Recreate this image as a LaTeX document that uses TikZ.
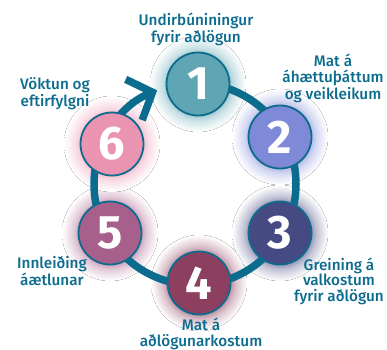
\documentclass[tikz,border=0pt]{standalone}
\usepackage{fontspec}
\setmainfont{Fira Sans}
\newfontfamily\medfont{Fira Sans Medium}
\usetikzlibrary{arrows.meta}
\definecolor{ringc}{RGB}{12,108,142}
\definecolor{cA}{HTML}{5FA5B3}
\definecolor{cB}{HTML}{7E89D8}
\definecolor{cC}{HTML}{464A82}
\definecolor{cD}{HTML}{8C3F5E}
\definecolor{cE}{HTML}{A75F8B}
\definecolor{cF}{HTML}{EA94B2}
\colorlet{glowc}{cA}
\pgfdeclareradialshading[glowc]{glow}{\pgfpointorigin}{color(0bp)=(glowc); color(16bp)=(glowc); color(19bp)=(glowc!55!white); color(25bp)=(white); color(50bp)=(white)}
\newcommand\glowat[2]{\colorlet{glowc}{#2!60!white}\fill[shading=glow] (#1) circle[radius=48pt];}
\tikzset{
  numc/.style={circle, minimum size=63pt, inner sep=0pt, draw=ringc, line width=1.8pt, text=white, font=\fontsize{47}{47}\selectfont\bfseries},
  lbl/.style={align=center, inner sep=0pt, text=ringc, anchor=base, font=\medfont\fontsize{15.3}{15.5}\selectfont},
  ringline/.style={draw=ringc, line width=7.5pt}
}
\begin{document}
\begin{tikzpicture}[x=1pt,y=1pt]
\useasboundingbox (0,0) rectangle (387,349);
\coordinate (p1) at (198,265);
\coordinate (p2) at (280,212);
\coordinate (p3) at (280,116);
\coordinate (p4) at (199,66);
\coordinate (p5) at (110,116);
\coordinate (p6) at (112,205);
\coordinate (rc) at (195,165);
\glowat{p1}{cA}
\glowat{p2}{cB}
\glowat{p3}{cC}
\glowat{p4}{cD}
\glowat{p5}{cE}
\glowat{p6}{cF}
\draw[ringline, -{Straight Barb[length=20pt,width=44pt]}] ([shift={(90:101)}]rc) arc[start angle=90, end angle=-248, radius=101];
\node[numc, fill=cA] (n1) at (p1) {1};
\node[numc, fill=cB] (n2) at (p2) {2};
\node[numc, fill=cC] (n3) at (p3) {3};
\node[numc, fill=cD] (n4) at (p4) {4};
\node[numc, fill=cE] (n5) at (p5) {5};
\node[numc, fill=cF] (n6) at (p6) {6};
\node[lbl] (l1) at (196,307) {Undirbúniningur\\fyrir aðlögun};
\node[lbl] (l2) at (333,250) {Mat á\\áhættuþáttum\\og veikleikum};
\node[lbl] (l3) at (339,48) {Greining á\\valkostum\\fyrir aðlögun};
\node[lbl] (l4) at (201,3) {Mat á\\aðlögunarkostum};
\node[lbl] (l5) at (52,64) {Innleiðing\\áætlunar};
\node[lbl] (l6) at (55,243) {Vöktun og\\eftirfylgni};
\end{tikzpicture}
\end{document}
